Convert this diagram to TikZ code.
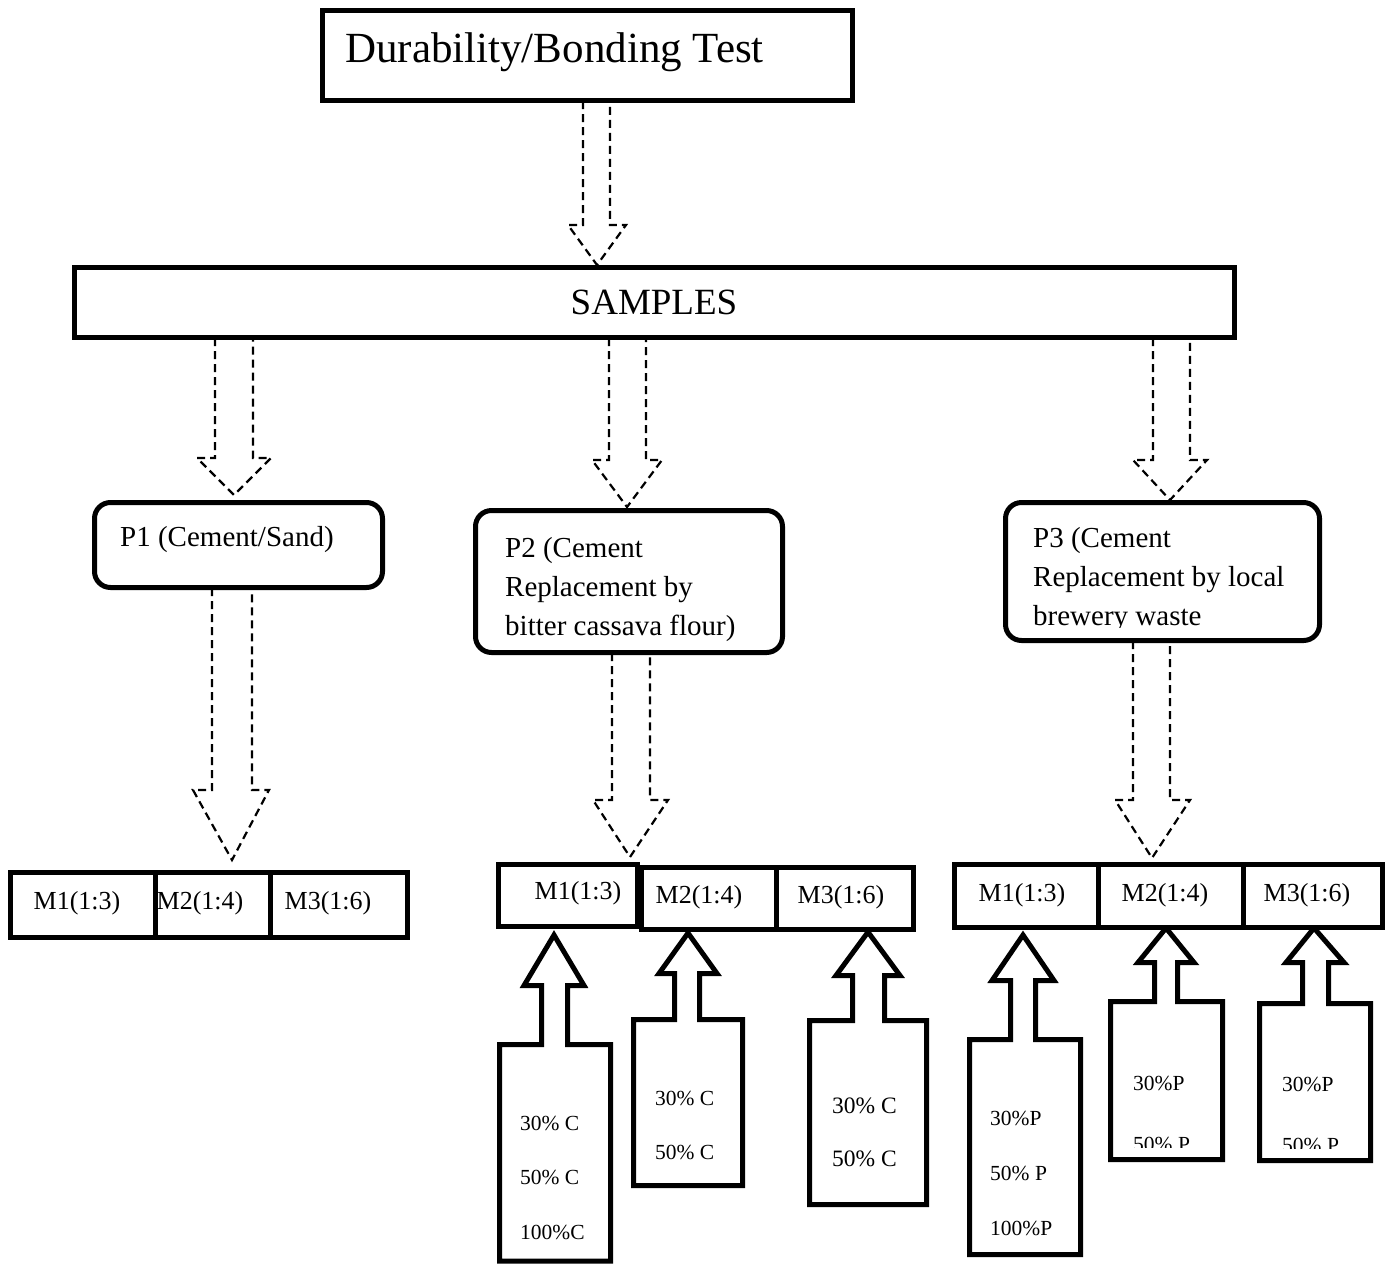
\documentclass[tikz,border=0pt]{standalone}
\usepackage{fontspec}
\setmainfont{Liberation Serif}
\begin{document}
\begin{tikzpicture}[x=1pt,y=-1pt,
  box/.style={draw, line width=5pt, fill=white, inner sep=0pt},
  rbox/.style={draw, line width=5pt, fill=white, rounded corners=16pt, inner sep=0pt},
  darrow/.style={draw, line width=2.2pt, dash pattern=on 8pt off 5pt, fill=white},
  sarrow/.style={draw, line width=5pt, fill=white, line join=miter},
  ttl/.style={font=\fontsize{43}{50}\selectfont, anchor=base west, inner sep=0pt},
  ptxt/.style={font=\fontsize{29}{39}\selectfont, anchor=base west, inner sep=0pt},
  mtxt/.style={font=\fontsize{26}{30}\selectfont, inner sep=0pt},
  pct/.style={font=\fontsize{21.5}{25}\selectfont, anchor=base west, inner sep=0pt}]
\useasboundingbox (0,0) rectangle (1396,1264);

% ---------- dashed block arrows ----------
\draw[darrow] (583,101) -- (583,225) -- (568,225) -- (597,265) -- (626,225) -- (610,225) -- (610,101) -- cycle;
\draw[darrow] (215,338) -- (215,458) -- (197,458) -- (234,495) -- (271,458) -- (253,458) -- (253,338) -- cycle;
\draw[darrow] (609,338) -- (609,460) -- (592,460) -- (627,507) -- (662,460) -- (646,460) -- (646,338) -- cycle;
\draw[darrow] (1153,338) -- (1153,460) -- (1133,460) -- (1170,500) -- (1207,460) -- (1190,460) -- (1190,338) -- cycle;
\draw[darrow] (212,588) -- (212,790) -- (193,790) -- (232,860) -- (269,790) -- (252,790) -- (252,588) -- cycle;
\draw[darrow] (612,653) -- (612,800) -- (593,800) -- (630,857) -- (668,800) -- (650,800) -- (650,653) -- cycle;
\draw[darrow] (1133,641) -- (1133,800) -- (1115,800) -- (1152,858) -- (1190,800) -- (1170,800) -- (1170,641) -- cycle;

% ---------- solid block arrows (callouts) ----------
\draw[sarrow] (554,935) -- (584,985.5) -- (567.5,985.5) -- (567.5,1044.5) -- (610.5,1044.5) -- (610.5,1261) -- (499.5,1261) -- (499.5,1044.5) -- (541.5,1044.5) -- (541.5,985.5) -- (524,985.5) -- cycle;
\draw[sarrow] (688,933) -- (717,973.5) -- (699.5,973.5) -- (699.5,1019.5) -- (742.5,1019.5) -- (742.5,1185.5) -- (633.5,1185.5) -- (633.5,1019.5) -- (674.5,1019.5) -- (674.5,973.5) -- (659,973.5) -- cycle;
\draw[sarrow] (868,932) -- (900,975.5) -- (884.5,975.5) -- (884.5,1020.5) -- (926.5,1020.5) -- (926.5,1204.5) -- (809.5,1204.5) -- (809.5,1020.5) -- (852.5,1020.5) -- (852.5,975.5) -- (836,975.5) -- cycle;
\draw[sarrow] (1023,935) -- (1054,980.5) -- (1035.5,980.5) -- (1035.5,1039.5) -- (1080.5,1039.5) -- (1080.5,1254.5) -- (969.5,1254.5) -- (969.5,1039.5) -- (1010.5,1039.5) -- (1010.5,980.5) -- (992,980.5) -- cycle;
\draw[sarrow] (1166,928) -- (1194,962.5) -- (1177.5,962.5) -- (1177.5,1001.5) -- (1222.5,1001.5) -- (1222.5,1159.5) -- (1110.5,1159.5) -- (1110.5,1001.5) -- (1154.5,1001.5) -- (1154.5,962.5) -- (1138,962.5) -- cycle;
\draw[sarrow] (1314,928) -- (1344,962.5) -- (1328.5,962.5) -- (1328.5,1003.5) -- (1370.5,1003.5) -- (1370.5,1160.5) -- (1259.5,1160.5) -- (1259.5,1003.5) -- (1302.5,1003.5) -- (1302.5,962.5) -- (1286,962.5) -- cycle;

% ---------- boxes ----------
\node[box, minimum width=530pt, minimum height=90pt] (top) at (587.5,55.5) {};
\node[ttl] (toptxt) at (345,62) {Durability/Bonding Test};

\node[box, minimum width=1160pt, minimum height=70pt] (samples) at (654.5,302.5) {};
\node[font=\fontsize{37}{44}\selectfont, inner sep=0pt] (samplestxt) at (654,302) {SAMPLES};

\node[rbox, minimum width=288pt, minimum height=85pt] (p1) at (238.5,545) {};
\node[ptxt] (p1txt) at (120,546) {P1 (Cement/Sand)};

\node[rbox, minimum width=307pt, minimum height=142pt] (p2) at (629,581.5) {};
\node[ptxt] (p2a) at (505,557) {P2 (Cement};
\node[ptxt] (p2b) at (505,596) {Replacement by};
\node[ptxt] (p2c) at (505,635) {bitter cassava flour)};

\node[rbox, minimum width=314pt, minimum height=138pt] (p3) at (1162.5,571.5) {};
\node[ptxt] (p3a) at (1033,547) {P3 (Cement};
\node[ptxt] (p3b) at (1033,586) {Replacement by local};
\begin{scope}
  \clip (1010,600) rectangle (1315,627);
  \node[ptxt] (p3c) at (1033,625) {brewery waste};
\end{scope}

% left M row
\node[box, minimum width=144.5pt, minimum height=65pt] (lm1) at (82.75,905) {};
\node[box, minimum width=115pt, minimum height=65pt] (lm2) at (212.5,905) {};
\node[box, minimum width=137.5pt, minimum height=65pt] (lm3) at (338.75,905) {};
\node[mtxt] (lm1t) at (77,903) {M1(1:3)};
\node[mtxt] (lm2t) at (200,903) {M2(1:4)};
\node[mtxt] (lm3t) at (328,903) {M3(1:6)};

% middle M row
\node[box, minimum width=139.5pt, minimum height=62pt] (mm1) at (567.75,895) {};
\node[box, minimum width=135pt, minimum height=62pt] (mm2) at (708.5,898) {};
\node[box, minimum width=137pt, minimum height=62pt] (mm3) at (844.5,898) {};
\node[mtxt] (mm1t) at (578,893) {M1(1:3)};
\node[mtxt] (mm2t) at (699,897) {M2(1:4)};
\node[mtxt] (mm3t) at (841,897) {M3(1:6)};

% right M row
\node[box, minimum width=143.5pt, minimum height=63pt] (rm1) at (1026.25,896) {};
\node[box, minimum width=145pt, minimum height=63pt] (rm2) at (1170.5,896) {};
\node[box, minimum width=139.5pt, minimum height=63pt] (rm3) at (1312.75,896) {};
\node[mtxt] (rm1t) at (1022,895) {M1(1:3)};
\node[mtxt] (rm2t) at (1165,895) {M2(1:4)};
\node[mtxt] (rm3t) at (1307,895) {M3(1:6)};

% ---------- percentage texts ----------
\node[pct] (c1a) at (520,1130) {30\% C};
\node[pct] (c1b) at (520,1184) {50\% C};
\node[pct] (c1c) at (520,1239) {100\%C};
\node[pct] (c2a) at (655,1105) {30\% C};
\node[pct] (c2b) at (655,1159) {50\% C};
\node[pct, font=\fontsize{23.5}{28}\selectfont] (c3a) at (832,1113) {30\% C};
\node[pct, font=\fontsize{23.5}{28}\selectfont] (c3b) at (832,1166) {50\% C};

\node[pct] (p1a) at (990,1125) {30\%P};
\node[pct] (p1b) at (990,1180) {50\% P};
\node[pct] (p1c) at (990,1235) {100\%P};
\node[pct] (q2a) at (1133,1090) {30\%P};
\begin{scope}
  \clip (1115,1120) rectangle (1218,1147);
  \node[pct] (q2b) at (1133,1151) {50\% P};
\end{scope}
\node[pct] (q3a) at (1282,1091) {30\%P};
\begin{scope}
  \clip (1263,1120) rectangle (1366,1148);
  \node[pct] (q3b) at (1282,1152) {50\% P};
\end{scope}
\end{tikzpicture}
\end{document}
